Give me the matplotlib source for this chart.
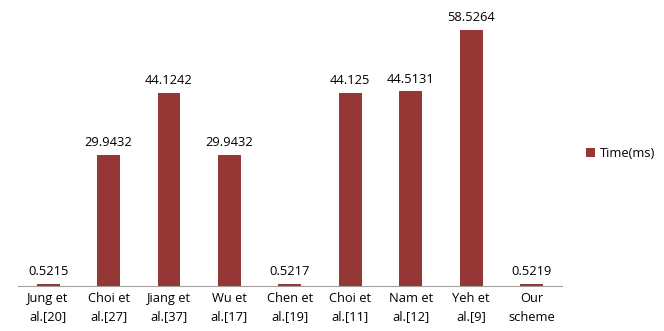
import matplotlib.pyplot as plt
import numpy as np

plt.rcParams['font.family'] = ['Open Sans', 'DejaVu Sans']

categories = ['Jung et\nal.[20]', 'Choi et\nal.[27]', 'Jiang et\nal.[37]', 'Wu et\nal.[17]',
              'Chen et\nal.[19]', 'Choi et\nal.[11]', 'Nam et\nal.[12]', 'Yeh et\nal.[9]', 'Our\nscheme']
times = [0.5215, 29.9432, 44.1242, 29.9432, 0.5217, 44.125, 44.5131, 58.5264, 0.5219]
value_labels = ['0.5215', '29.9432', '44.1242', '29.9432', '0.5217', '44.125', '44.5131', '58.5264', '0.5219']

fig = plt.figure(figsize=(6.64, 3.31), dpi=100)
ax = fig.add_axes([0.027, 0.136, 0.819, 0.793])

x = np.arange(len(categories))
bars = ax.bar(x, times, width=0.38, color='#953735', label='Time(ms)')

for xi, v, lab in zip(x, times, value_labels):
    ax.text(xi, v + 1.3, lab, ha='center', va='bottom', fontsize=9.3)

ax.set_xlim(-0.5, len(categories) - 0.5)
ax.set_ylim(0, 60)
ax.set_xticks(x)
ax.set_xticklabels(categories, fontsize=9.3, linespacing=1.6)
ax.tick_params(axis='x', length=0, pad=4)
ax.set_yticks([])
for s in ['top', 'right', 'left']:
    ax.spines[s].set_visible(False)
ax.spines['bottom'].set_color('#a0a0a0')

fig.legend(handles=[bars], labels=['Time(ms)'], loc='center left', bbox_to_anchor=(0.865, 0.537),
           frameon=False, fontsize=9.3, handlelength=0.7, handleheight=0.7, handletextpad=0.4)

fig.savefig('out.png', dpi=100)
